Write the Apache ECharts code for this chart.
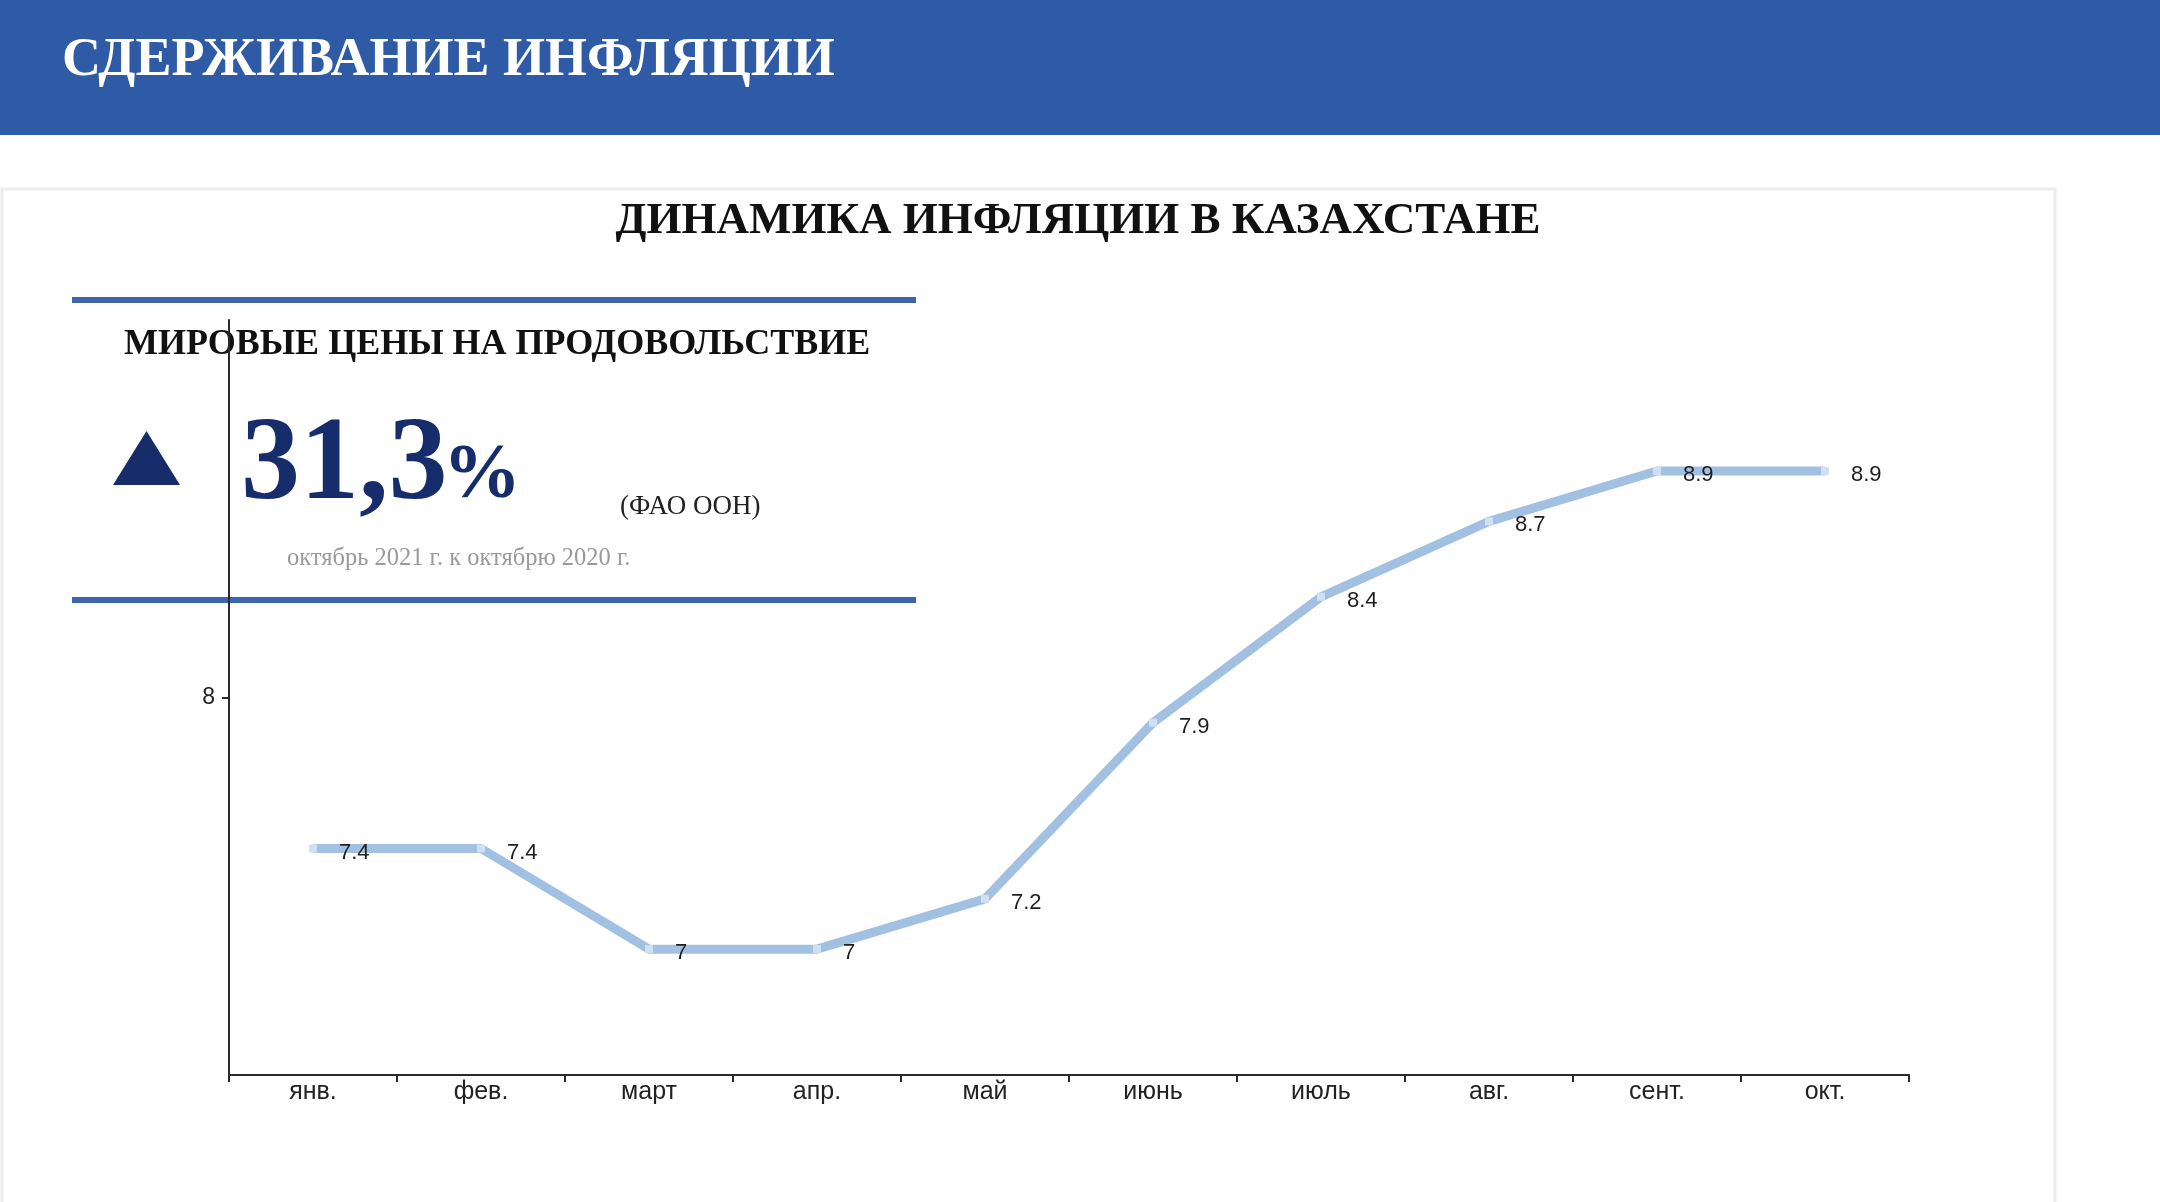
<!DOCTYPE html>
<html><head><meta charset="utf-8">
<script src="https://cdn.jsdelivr.net/npm/echarts@6/dist/echarts.min.js"></script>
<style>html,body{margin:0;padding:0;background:#fff}#c{width:2160px;height:1202px}</style>
</head><body><div id="c"></div>
<script>
const categories = ['янв.', 'фев.', 'март', 'апр.', 'май', 'июнь', 'июль', 'авг.', 'сент.', 'окт.'];
const inflation = [7.4, 7.4, 7, 7, 7.2, 7.9, 8.4, 8.7, 8.9, 8.9];
const yTickLabels = [8];
const headerTitle = 'СДЕРЖИВАНИЕ ИНФЛЯЦИИ';
const chartTitle = 'ДИНАМИКА ИНФЛЯЦИИ В КАЗАХСТАНЕ';
const insetTitle = 'МИРОВЫЕ ЦЕНЫ НА ПРОДОВОЛЬСТВИЕ';
const insetValue = '31,3';
const insetSource = '(ФАО ООН)';
const insetNote = 'октябрь 2021 г. к октябрю 2020 г.';

const chart = echarts.init(document.getElementById('c'), null, {renderer: 'canvas'});
const serif = '"Liberation Serif", "Times New Roman", serif';
const sans = '"Liberation Sans", Arial, sans-serif';
chart.setOption({
  backgroundColor: '#ffffff',
  animation: false,
  grid: {left: 229, right: 251, top: 320, bottom: 127, containLabel: false},
  xAxis: {
    type: 'category',
    data: categories,
    boundaryGap: true,
    axisLine: {lineStyle: {color: '#2a2a2a', width: 2}},
    axisTick: {show: true, length: 7, lineStyle: {color: '#2a2a2a', width: 2}},
    axisLabel: {color: '#222', fontFamily: sans, fontSize: 25, margin: 5}
  },
  yAxis: {
    type: 'value',
    min: 6.5, max: 9.5, interval: 0.5,
    splitLine: {show: false},
    axisLine: {show: true, lineStyle: {color: '#2a2a2a', width: 2}},
    axisTick: {show: true, length: 7, customValues: yTickLabels, lineStyle: {color: '#2a2a2a', width: 2}},
    axisLabel: {color: '#222', fontFamily: sans, fontSize: 23, margin: 14, customValues: yTickLabels}
  },
  series: [{
    type: 'line',
    data: inflation,
    symbol: 'rect',
    symbolSize: 8,
    showSymbol: true,
    itemStyle: {color: '#cfe0f1', borderWidth: 0},
    lineStyle: {color: '#a2c1e2', width: 9, join: 'round', cap: 'butt'},
    label: {show: true, position: 'right', distance: 22, offset: [0, 4], color: '#1e1e1e', fontFamily: sans, fontSize: 22},
    z: 3
  }],
  graphic: [
    {type: 'rect', shape: {x: 0, y: 0, width: 2160, height: 135}, style: {fill: '#2e5aa6'}, z: -10},
    {type: 'rect', shape: {x: 2, y: 189, width: 2053, height: 1030}, style: {fill: 'none', stroke: '#ececec', lineWidth: 3}, z: -10},
    {type: 'text', x: 62, y: 61, style: {text: headerTitle, fill: '#fff', font: 'bold 54px ' + serif, align: 'left', verticalAlign: 'middle'}},
    {type: 'text', x: 1078, y: 221, style: {text: chartTitle, fill: '#111', font: 'bold 45px ' + serif, align: 'center', verticalAlign: 'middle'}},
    {type: 'rect', shape: {x: 72, y: 297, width: 844, height: 6}, style: {fill: '#3d64ae'}},
    {type: 'rect', shape: {x: 72, y: 597, width: 844, height: 6}, style: {fill: '#3d64ae'}},
    {type: 'text', x: 124, y: 345, style: {text: insetTitle, fill: '#111', font: 'bold 36px ' + serif, align: 'left', verticalAlign: 'middle'}},
    {type: 'polygon', shape: {points: [[113, 485], [180, 485], [146.5, 431]]}, style: {fill: '#172c6b'}},
    {type: 'text', x: 241, y: 468, style: {text: insetValue, fill: '#172c6b', font: 'bold 118px ' + serif, align: 'left', verticalAlign: 'middle'}},
    {type: 'text', x: 443, y: 477, style: {text: '%', fill: '#172c6b', font: 'bold 78px ' + serif, align: 'left', verticalAlign: 'middle'}},
    {type: 'text', x: 620, y: 507, style: {text: insetSource, fill: '#222', font: '27px ' + serif, align: 'left', verticalAlign: 'middle'}},
    {type: 'text', x: 287, y: 559, style: {text: insetNote, fill: '#9a9a9a', font: '24.5px ' + serif, align: 'left', verticalAlign: 'middle'}}
  ]
});
</script></body></html>
